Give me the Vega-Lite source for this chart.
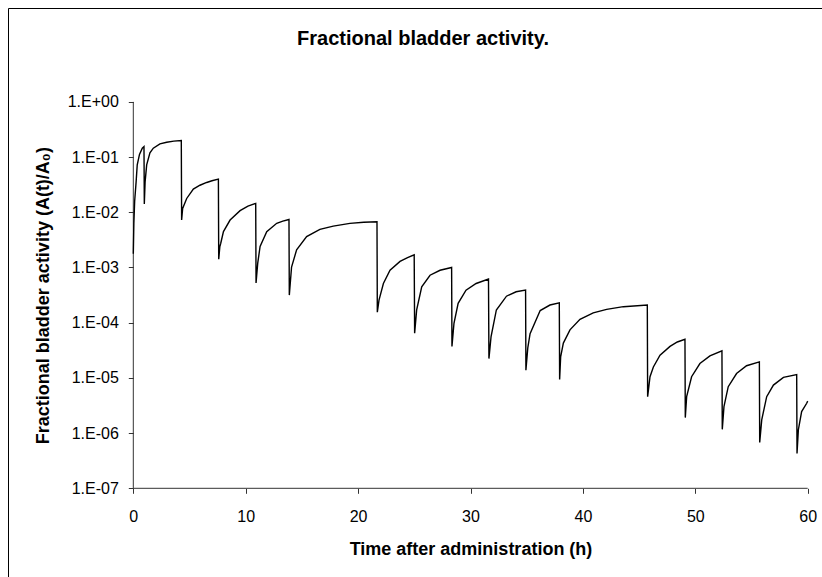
{
  "$schema": "https://vega.github.io/schema/vega-lite/v6.json",
  "width": 816,
  "height": 571,
  "autosize": "none",
  "padding": {"left": 8, "top": 8, "right": 0, "bottom": 0},
  "background": "white",
  "config": {
    "view": {"stroke": "black", "strokeWidth": 1},
    "font": "Liberation Sans"
  },
  "title": {
    "text": "Fractional bladder activity.",
    "font": "Liberation Sans",
    "fontSize": 20,
    "fontWeight": "bold",
    "color": "black",
    "anchor": "middle",
    "frame": "group",
    "baseline": "alphabetic",
    "offset": 0,
    "dx": 7,
    "dy": 57
  },
  "encoding": {
    "x": {
      "field": "t",
      "type": "quantitative",
      "scale": {"domain": [-11.148, 61.45], "nice": false, "zero": false},
      "axis": {
        "orient": "bottom",
        "offset": -90.7,
        "domain": false,
        "grid": false,
        "values": [0, 10, 20, 30, 40, 50, 60],
        "format": "d",
        "ticks": true,
        "tickSize": 5,
        "tickColor": "#333",
        "labelFont": "Liberation Sans",
        "labelFontSize": 16,
        "labelColor": "black",
        "labelPadding": 15,
        "title": "Time after administration (h)",
        "titleFont": "Liberation Sans",
        "titleFontSize": 18,
        "titleFontWeight": "bold",
        "titleColor": "black",
        "titleX": 462.5,
        "titleY": 65.7,
        "titleBaseline": "alphabetic",
        "titleAlign": "center"
      }
    },
    "y": {
      "field": "v",
      "type": "quantitative",
      "scale": {"type": "log", "domain": [2.275e-9, 50.2], "nice": false, "zero": false},
      "axis": {
        "orient": "left",
        "offset": -125.3,
        "domain": false,
        "grid": false,
        "values": [1e-7, 1e-6, 1e-5, 1e-4, 1e-3, 1e-2, 1e-1, 1],
        "labelExpr": "'1.E' + (datum.value >= 0.5 ? '+' : '-') + (abs(round(log(datum.value)/LN10)) < 10 ? '0' : '') + abs(round(log(datum.value)/LN10))",
        "ticks": true,
        "tickSize": 5,
        "tickColor": "#333",
        "labelFont": "Liberation Sans",
        "labelFontSize": 16,
        "labelColor": "black",
        "labelPadding": 10,
        "title": "Fractional bladder activity (A(t)/A₀)",
        "titleFont": "Liberation Sans",
        "titleFontSize": 18,
        "titleFontWeight": "bold",
        "titleColor": "black",
        "titleAngle": -90,
        "titleX": -90.3,
        "titleY": 287.1,
        "titleBaseline": "middle",
        "titleAlign": "center"
      }
    }
  },
  "layer": [
    {
      "data": {"values": [
        {"t": 0, "t2": 60, "v": 1e-7, "v2": 1e-7},
        {"t": 0, "t2": 0, "v": 1e-7, "v2": 1}
      ]},
      "mark": {"type": "rule", "color": "#333", "strokeWidth": 1},
      "encoding": {
        "x2": {"field": "t2"},
        "y2": {"field": "v2"}
      }
    },
    {
      "data": {"values": [
        {"t": 0, "v": 0.00178}, {"t": 0.05, "v": 0.00631}, {"t": 0.12, "v": 0.0158}, {"t": 0.25, "v": 0.0355}, {"t": 0.35, "v": 0.0724}, {"t": 0.55, "v": 0.112}, {"t": 0.8, "v": 0.145}, {"t": 0.95, "v": 0.155},
        {"t": 0.98, "v": 0.0141},
        {"t": 1.05, "v": 0.0355}, {"t": 1.19, "v": 0.0724}, {"t": 1.48, "v": 0.12}, {"t": 1.78, "v": 0.145}, {"t": 2.37, "v": 0.174}, {"t": 2.97, "v": 0.186}, {"t": 3.6, "v": 0.195}, {"t": 4.27, "v": 0.2},
        {"t": 4.3, "v": 0.00724},
        {"t": 4.39, "v": 0.0117}, {"t": 4.75, "v": 0.0178}, {"t": 5.34, "v": 0.0263}, {"t": 5.93, "v": 0.0309}, {"t": 6.53, "v": 0.0347}, {"t": 7.0, "v": 0.0372}, {"t": 7.57, "v": 0.0398},
        {"t": 7.6, "v": 0.00141},
        {"t": 7.7, "v": 0.0024}, {"t": 7.78, "v": 0.00275}, {"t": 8.02, "v": 0.00447}, {"t": 8.61, "v": 0.00724}, {"t": 9.5, "v": 0.0107}, {"t": 10.2, "v": 0.0129}, {"t": 10.89, "v": 0.0145},
        {"t": 10.92, "v": 0.000525},
        {"t": 11.07, "v": 0.0012}, {"t": 11.28, "v": 0.0024}, {"t": 11.87, "v": 0.00447}, {"t": 12.76, "v": 0.00631}, {"t": 13.3, "v": 0.00692}, {"t": 13.85, "v": 0.00741},
        {"t": 13.88, "v": 0.000316},
        {"t": 14.08, "v": 0.00102}, {"t": 14.53, "v": 0.00209}, {"t": 15.42, "v": 0.00363}, {"t": 16.6, "v": 0.0049}, {"t": 17.79, "v": 0.00562}, {"t": 19.27, "v": 0.00631}, {"t": 20.5, "v": 0.00661}, {"t": 21.68, "v": 0.00676},
        {"t": 21.71, "v": 0.000155},
        {"t": 21.86, "v": 0.000257}, {"t": 22.25, "v": 0.000513}, {"t": 22.84, "v": 0.000891}, {"t": 23.73, "v": 0.00129}, {"t": 24.4, "v": 0.00151}, {"t": 24.99, "v": 0.0017},
        {"t": 25.03, "v": 0.0000646},
        {"t": 25.21, "v": 0.00017}, {"t": 25.66, "v": 0.000447}, {"t": 26.4, "v": 0.000724}, {"t": 27.29, "v": 0.000891}, {"t": 28.32, "v": 0.001},
        {"t": 28.35, "v": 0.0000372},
        {"t": 28.53, "v": 0.0000977}, {"t": 28.9, "v": 0.000224}, {"t": 29.6, "v": 0.000389}, {"t": 30.5, "v": 0.000513}, {"t": 31.6, "v": 0.000617},
        {"t": 31.64, "v": 0.0000224},
        {"t": 31.83, "v": 0.0000562}, {"t": 32.3, "v": 0.00017}, {"t": 33.2, "v": 0.000302}, {"t": 34.06, "v": 0.000363}, {"t": 34.9, "v": 0.000389},
        {"t": 34.93, "v": 0.0000138},
        {"t": 35.1, "v": 0.0000355}, {"t": 35.3, "v": 0.0000631}, {"t": 36.2, "v": 0.000166}, {"t": 37.07, "v": 0.000209}, {"t": 37.9, "v": 0.000229},
        {"t": 37.93, "v": 0.00000933},
        {"t": 38.02, "v": 0.000024}, {"t": 38.26, "v": 0.0000427}, {"t": 38.85, "v": 0.0000741}, {"t": 39.74, "v": 0.000115}, {"t": 40.92, "v": 0.000151}, {"t": 42.11, "v": 0.000174}, {"t": 43.6, "v": 0.000195}, {"t": 45.73, "v": 0.000209},
        {"t": 45.76, "v": 0.00000457},
        {"t": 45.97, "v": 0.0000105}, {"t": 46.27, "v": 0.0000158}, {"t": 46.86, "v": 0.0000257}, {"t": 47.75, "v": 0.0000372}, {"t": 48.4, "v": 0.0000447}, {"t": 49.08, "v": 0.0000501},
        {"t": 49.11, "v": 0.00000191},
        {"t": 49.23, "v": 0.00000457}, {"t": 49.67, "v": 0.0000105}, {"t": 50.41, "v": 0.0000182}, {"t": 51.3, "v": 0.0000251}, {"t": 52.37, "v": 0.0000309},
        {"t": 52.4, "v": 0.00000117},
        {"t": 52.55, "v": 0.00000302}, {"t": 52.93, "v": 0.00000692}, {"t": 53.67, "v": 0.000012}, {"t": 54.56, "v": 0.0000166}, {"t": 55.7, "v": 0.0000195},
        {"t": 55.73, "v": 6.76e-7},
        {"t": 55.91, "v": 0.00000174}, {"t": 56.35, "v": 0.00000457}, {"t": 56.95, "v": 0.00000741}, {"t": 57.84, "v": 0.0000102}, {"t": 59.02, "v": 0.0000115},
        {"t": 59.05, "v": 4.27e-7},
        {"t": 59.17, "v": 0.00000115}, {"t": 59.46, "v": 0.00000245}, {"t": 59.91, "v": 0.00000347}, {"t": 60.0, "v": 0.0000038}
      ]},
      "mark": {"type": "line", "color": "black", "strokeWidth": 1.4, "interpolate": "linear"}
    }
  ]
}
